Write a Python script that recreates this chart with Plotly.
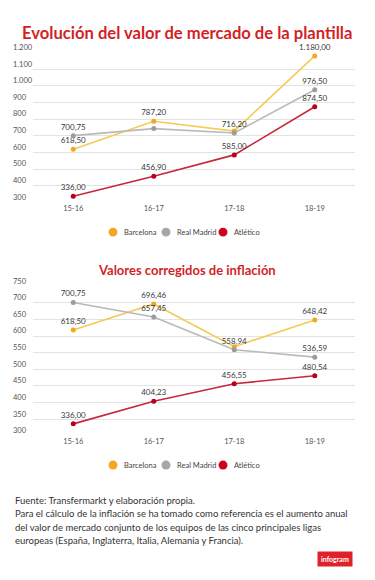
import plotly.graph_objects as go

W, H = 375, 580

seasons = ["15-16", "16-17", "17-18", "18-19"]
teams = ["Barcelona", "Real Madrid", "Atlético"]

# Market value (M€)
barca_raw = [618.50, 787.20, 728.00, 1180.00]
madrid_raw = [700.75, 743.00, 716.20, 976.50]
atleti_raw = [336.00, 456.90, 585.00, 874.50]

# Inflation-corrected values (M€)
barca_adj = [618.50, 696.46, 568.00, 648.42]
madrid_adj = [700.75, 657.45, 558.94, 536.59]
atleti_adj = [336.00, 404.23, 456.55, 480.54]

# which data labels are visible in the original (overlapping ones hidden)
barca_raw_show = [True, True, False, True]
madrid_raw_show = [True, False, True, True]
atleti_raw_show = [True, True, True, True]
barca_adj_show = [True, True, False, True]
madrid_adj_show = [True, True, True, True]
atleti_adj_show = [True, True, True, True]

title_top = "Evolución del valor de mercado de la plantilla"
title_bottom = "Valores corregidos de inflación"
notes = [
    "Fuente: Transfermarkt y elaboración propia.",
    "Para el cálculo de la inflación se ha tomado como referencia es el aumento anual",
    "del valor de mercado conjunto de los equipos de las cinco principales ligas",
    "europeas (España, Inglaterra, Italia, Alemania y Francia).",
]

line_colors = ["#f3cb55", "#b9b9b9", "#c7283b"]
marker_colors = ["#efaa22", "#9c9c9c", "#b8001a"]
legend_colors = ["#f5a623", "#a6a6a6", "#d0021b"]

FONT = "Lato"
RED = "#d31f26"


def es(v):
    s = f"{v:,.2f}"
    return s.replace(",", "X").replace(".", ",").replace("X", ".")


def labels(vals, show):
    return [es(v) if s else "" for v, s in zip(vals, show)]


fig = go.Figure()

top = [(barca_raw, barca_raw_show), (madrid_raw, madrid_raw_show), (atleti_raw, atleti_raw_show)]
bot = [(barca_adj, barca_adj_show), (madrid_adj, madrid_adj_show), (atleti_adj, atleti_adj_show)]

for (xa, ya, series) in [("x", "y", top), ("x2", "y2", bot)]:
    for i, (vals, show) in enumerate(series):
        fig.add_trace(go.Scatter(
            x=seasons, y=vals, mode="lines+markers+text",
            text=labels(vals, show), textposition="top center",
            textfont=dict(family=FONT, size=8, color="#3a3a3a"),
            line=dict(color=line_colors[i], width=1.6),
            marker=dict(color=marker_colors[i], size=5),
            cliponaxis=False, showlegend=False, hoverinfo="x+y",
            xaxis=xa, yaxis=ya, name=teams[i],
        ))


def px_x(p):
    return p / W


def px_y(p):
    return 1 - p / H


x_dom = [px_x(33), px_x(355)]
tickfont = dict(family=FONT, size=7.5, color="#555")
axis_x = dict(domain=x_dom, type="category", range=[-0.5, 3.5], showgrid=False,
              showline=False, zeroline=False, ticks="", tickfont=tickfont, fixedrange=True)
axis_y = dict(anchor="free", position=px_x(9), ticklabelposition="inside top",
              ticklabeloverflow="allow", separatethousands=True,
              showline=False, zeroline=False, ticks="", gridcolor="#e3e3e3", gridwidth=1,
              tickfont=tickfont, fixedrange=True)

fig.update_layout(
    width=W, height=H, margin=dict(l=0, r=0, t=0, b=0),
    paper_bgcolor="white", plot_bgcolor="white",
    separators=",.",
    showlegend=False,
    font=dict(family=FONT),
    xaxis=dict(axis_x, anchor="y"),
    yaxis=dict(axis_y, domain=[px_y(195.7), px_y(43.3)], range=[300, 1200], dtick=100),
    xaxis2=dict(axis_x, anchor="y2"),
    yaxis2=dict(axis_y, domain=[px_y(433.3), px_y(281)], range=[300, 750], dtick=50),
)

annotations = [
    dict(text=f"<b>{title_top}</b>", x=px_x(187), y=px_y(23), xref="paper", yref="paper",
         showarrow=False, xanchor="center", yanchor="middle",
         font=dict(family=FONT, size=16.6, color=RED)),
    dict(text=f"<b>{title_bottom}</b>", x=px_x(187), y=px_y(265), xref="paper", yref="paper",
         showarrow=False, xanchor="center", yanchor="middle",
         font=dict(family=FONT, size=13, color=RED)),
    dict(text="<b>infogram</b>", x=px_x(335), y=px_y(559), xref="paper", yref="paper",
         showarrow=False, xanchor="center", yanchor="middle", bgcolor="#e0202b",
         borderpad=3, font=dict(family=FONT, size=7, color="white")),
]
for i, line in enumerate(notes):
    annotations.append(dict(
        text=line, x=px_x(13), y=px_y(499 + i * 13.7), xref="paper", yref="paper",
        showarrow=False, xanchor="left", yanchor="middle",
        font=dict(family=FONT, size=9.5, color="#333")))

# legends (one per chart): colour dot + team name
legend_dot_x = [113, 166, 223]
legend_rows = [226, 463]
shapes = []
for ly in legend_rows:
    for i, t in enumerate(teams):
        cx = legend_dot_x[i]
        shapes.append(dict(type="circle", xref="paper", yref="paper",
                           x0=px_x(cx - 4.5), x1=px_x(cx + 4.5),
                           y0=px_y(ly + 4.5), y1=px_y(ly - 4.5),
                           fillcolor=legend_colors[i], line=dict(width=0)))
        annotations.append(dict(text=t, x=px_x(cx + 9), y=px_y(ly), xref="paper", yref="paper",
                                showarrow=False, xanchor="left", yanchor="middle",
                                font=dict(family=FONT, size=7.5, color="#444")))

fig.update_layout(annotations=annotations, shapes=shapes)

fig.write_html("out.html", config={"displayModeBar": False},
               post_script="document.body.style.margin='0';")
